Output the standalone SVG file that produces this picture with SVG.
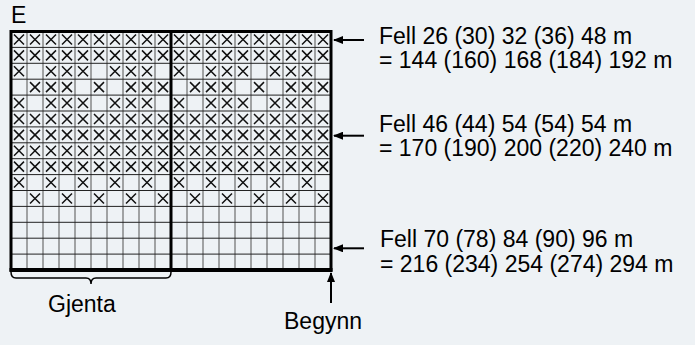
<svg xmlns="http://www.w3.org/2000/svg" xmlns:xlink="http://www.w3.org/1999/xlink" width="695" height="345" viewBox="0 0 695 345">
<style>
.t{font-family:"Liberation Sans",Arial,Helvetica,sans-serif;font-size:23px;fill:#000}
.xm{stroke:#111;stroke-width:1.5;fill:none}
.vl{stroke:#777;stroke-width:1.3}
.hl{stroke:#222;stroke-width:1}
.fr{stroke:#000;stroke-width:3;fill:none}
.ar{stroke:#000;stroke-width:2;fill:none}
</style>
<defs>
<marker id="ah" markerWidth="10" markerHeight="8" refX="9" refY="4" orient="auto" markerUnits="userSpaceOnUse">
<path d="M0,0 L10,4 L0,8 Z" fill="#000"/>
</marker>
<path id="x" class="xm" d="M-5,-5L5,5M-5,5L5,-5"/>
<g id="rA"><use href="#x" x="8"/><use href="#x" x="24"/><use href="#x" x="40"/><use href="#x" x="56"/><use href="#x" x="72"/><use href="#x" x="88"/><use href="#x" x="104"/><use href="#x" x="120"/><use href="#x" x="136"/><use href="#x" x="152"/></g>
<g id="rB"><use href="#x" x="8"/><use href="#x" x="40"/><use href="#x" x="56"/><use href="#x" x="72"/><use href="#x" x="104"/><use href="#x" x="120"/><use href="#x" x="136"/></g>
<g id="rC"><use href="#x" x="24"/><use href="#x" x="40"/><use href="#x" x="56"/><use href="#x" x="88"/><use href="#x" x="120"/><use href="#x" x="136"/><use href="#x" x="152"/></g>
<g id="rD"><use href="#x" x="8"/><use href="#x" x="40"/><use href="#x" x="72"/><use href="#x" x="104"/><use href="#x" x="136"/></g>
<g id="rE"><use href="#x" x="24"/><use href="#x" x="56"/><use href="#x" x="88"/><use href="#x" x="120"/><use href="#x" x="152"/></g>
</defs>
<rect width="695" height="345" fill="#eef2f5"/>
<g id="chart">
<g id="gridlines">
<path class="vl" d="M27,31.5V270M43,31.5V270M59,31.5V270M75,31.5V270M91,31.5V270M107,31.5V270M123,31.5V270M139,31.5V270M155,31.5V270M187,31.5V270M203,31.5V270M219,31.5V270M235,31.5V270M251,31.5V270M267,31.5V270M283,31.5V270M299,31.5V270M315,31.5V270"/>
<path class="hl" d="M11,47.4H331M11,63.3H331M11,79.2H331M11,95.1H331M11,111H331M11,126.9H331M11,142.8H331M11,158.7H331M11,174.6H331M11,190.5H331M11,206.4H331M11,222.3H331M11,238.2H331M11,254.1H331"/>
</g>
<g id="marks">
<use href="#rA" x="11" y="39.45"/><use href="#rA" x="171" y="39.45"/>
<use href="#rA" x="11" y="55.35"/><use href="#rA" x="171" y="55.35"/>
<use href="#rB" x="11" y="71.25"/><use href="#rB" x="171" y="71.25"/>
<use href="#rC" x="11" y="87.15"/><use href="#rC" x="171" y="87.15"/>
<use href="#rB" x="11" y="103.05"/><use href="#rB" x="171" y="103.05"/>
<use href="#rA" x="11" y="118.95"/><use href="#rA" x="171" y="118.95"/>
<use href="#rA" x="11" y="134.85"/><use href="#rA" x="171" y="134.85"/>
<use href="#rA" x="11" y="150.75"/><use href="#rA" x="171" y="150.75"/>
<use href="#rA" x="11" y="166.65"/><use href="#rA" x="171" y="166.65"/>
<use href="#rD" x="11" y="182.55"/><use href="#rD" x="171" y="182.55"/>
<use href="#rE" x="11" y="198.45"/><use href="#rE" x="171" y="198.45"/>
</g>
<g id="frame">
<rect class="fr" x="11" y="31.5" width="320" height="238.5"/>
<path class="fr" d="M171,31.5V270"/>
<path stroke="#000" stroke-width="4" d="M9.5,270H332.5"/>
</g>
</g>
<g id="connectors">
<path class="ar" d="M364,40H334" marker-end="url(#ah)"/>
<path class="ar" d="M364,135.7H334" marker-end="url(#ah)"/>
<path class="ar" d="M364,248.3H334" marker-end="url(#ah)"/>
<path class="ar" d="M331,303V273" marker-end="url(#ah)"/>
<path id="brace" stroke="#000" stroke-width="1.5" fill="none" d="M11,272Q11,278 16,278H86Q91,278 91,284Q91,278 96,278H166Q171,278 171,272"/>
</g>
<g id="labels">
<text class="t" x="11" y="23">E</text>
<text class="t" x="379" y="44">Fell 26 (30) 32 (36) 48 m</text>
<text class="t" x="379" y="67.5">= 144 (160) 168 (184) 192 m</text>
<text class="t" x="379" y="132">Fell 46 (44) 54 (54) 54 m</text>
<text class="t" x="379" y="155.5">= 170 (190) 200 (220) 240 m</text>
<text class="t" x="380" y="247.3">Fell 70 (78) 84 (90) 96 m</text>
<text class="t" x="380" y="271.7">= 216 (234) 254 (274) 294 m</text>
<text class="t" x="48" y="312">Gjenta</text>
<text class="t" x="284" y="329">Begynn</text>
</g>
</svg>
